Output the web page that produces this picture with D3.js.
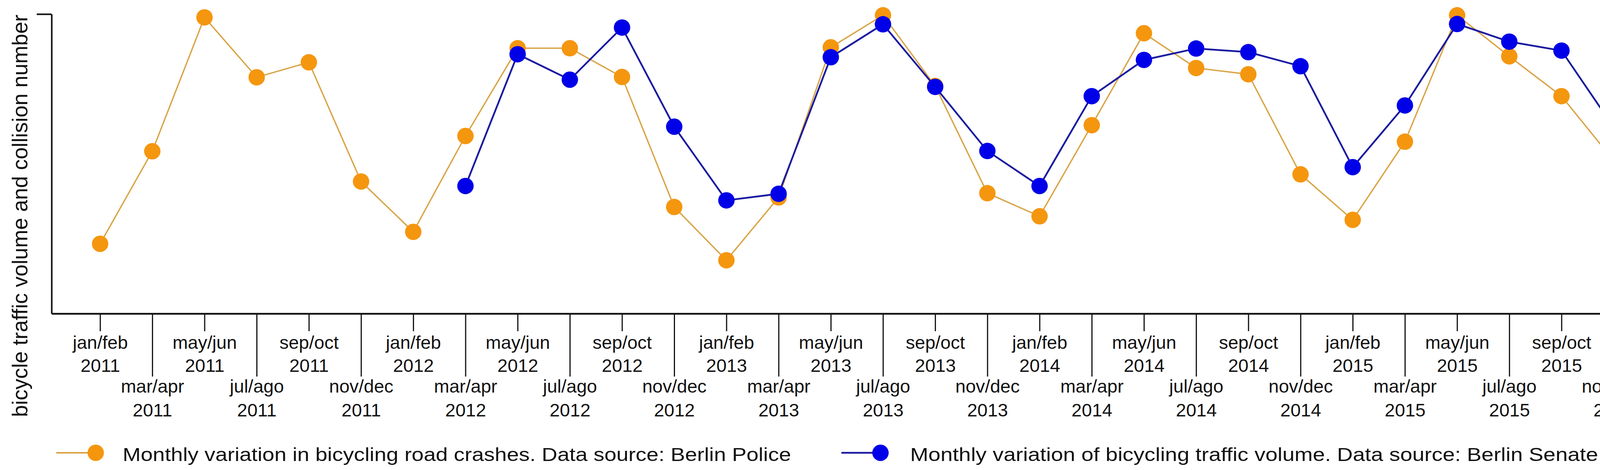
<!DOCTYPE html>
<html>
<head>
<meta charset="utf-8">
<script src="https://cdn.jsdelivr.net/npm/d3@7"></script>
<style>
  html, body { margin: 0; padding: 0; background: #fff; overflow: hidden; }
  svg { display: block; }
  text { font-family: "Liberation Sans", Arial, sans-serif; fill: #111; }
</style>
</head>
<body>
<div id="chart"></div>
<script>
// bimestres 2011-2015
const periods = ['jan/feb', 'mar/apr', 'may/jun', 'jul/ago', 'sep/oct', 'nov/dec'];
const years = [2011, 2012, 2013, 2014, 2015];

// índice relativo (0-100)
const crashes = [23.3, 54.2, 98.9, 78.9, 83.9, 44.1,
                 27.3, 59.3, 88.6, 88.6, 79.0, 35.6,
                 17.8, 38.8, 88.9, 99.6, 76.0, 40.2,
                 32.5, 62.9, 93.6, 82.0, 79.9, 46.5,
                 31.3, 57.4, 99.6, 85.9, 72.6, 51.1];

// tráfico: empieza en mar/apr 2012 (índice 8)
const trafficStart = 8;
const traffic = [42.6, 86.6, 78.1, 95.5, 62.4,
                 37.8, 40.0, 85.6, 96.6, 75.7, 54.3,
                 42.6, 72.6, 84.7, 88.5, 87.3, 82.6,
                 48.9, 69.5, 96.7, 90.8, 87.8, 62.2];

const legendLabels = [
  'Monthly variation in bicycling road crashes. Data source: Berlin Police',
  'Monthly variation of bicycling traffic volume. Data source: Berlin Senate'
];
const yTitle = 'bicycle traffic volume and collision number';

const width = 4229, height = 1202;
const orange = '#F5960F', orangeLine = '#D9A446';
const blue = '#0000E8', blueLine = '#1A1AA0';
const r = 21;

const labels = [];
years.forEach(y => periods.forEach(p => labels.push([p, y])));

const crashData = crashes.map((v, i) => ({ i: i + 1, v }));
const trafficData = traffic.map((v, i) => ({ i: i + trafficStart, v }));

const svg = d3.select('#chart').append('svg')
  .attr('width', width)
  .attr('height', height);

const x = d3.scaleLinear().domain([0.07, 30]).range([132, 4131]);
const y = d3.scaleLinear().domain([0, 100]).range([802, 36]);

// eje y
svg.append('g')
  .attr('transform', `translate(${x.range()[0]},0)`)
  .call(d3.axisLeft(y).tickValues([100]).tickFormat('').tickSize(38).tickSizeOuter(0))
  .call(g => g.select('.domain').attr('stroke', '#111').attr('stroke-width', 4))
  .call(g => g.selectAll('.tick line').attr('stroke', '#111').attr('stroke-width', 4));

// eje x
const xAxis = svg.append('g')
  .attr('transform', `translate(0,${y(0)})`)
  .call(d3.axisBottom(x).tickValues(d3.range(1, 31)).tickFormat('').tickSizeOuter(0));

xAxis.select('.domain').attr('stroke', '#111').attr('stroke-width', 4.5);
xAxis.selectAll('.tick line')
  .attr('stroke', '#111')
  .attr('stroke-width', 3)
  .attr('y2', d => d % 2 ? 45 : 161);

xAxis.selectAll('.tick text').remove();
const tl = xAxis.selectAll('.tick').append('text')
  .attr('text-anchor', 'middle')
  .style('font-size', '47px');
tl.append('tspan')
  .attr('x', 0)
  .attr('y', d => d % 2 ? 90 : 202)
  .text(d => labels[d - 1][0]);
tl.append('tspan')
  .attr('x', 0)
  .attr('y', d => d % 2 ? 149 : 263)
  .text(d => labels[d - 1][1]);

// título eje y
svg.append('text')
  .attr('transform', `translate(70,552) rotate(-90)`)
  .attr('text-anchor', 'middle')
  .style('font-size', '55px')
  .text(yTitle);

const line = d3.line().x(d => x(d.i)).y(d => y(d.v));

function drawSeries(data, lineColor, lineWidth, pointColor) {
  svg.append('path')
    .datum(data)
    .attr('d', line)
    .attr('fill', 'none')
    .attr('stroke', lineColor)
    .attr('stroke-width', lineWidth);
  svg.append('g').selectAll('circle')
    .data(data)
    .enter()
    .append('circle')
    .attr('cx', d => x(d.i))
    .attr('cy', d => y(d.v))
    .attr('r', r)
    .attr('fill', pointColor);
}

drawSeries(crashData, orangeLine, 3.5, orange);
drawSeries(trafficData, blueLine, 4.5, blue);

// leyenda
const legend = [
  { x0: 144, cx: 245, tx: 314, tw: 1711, line: orangeLine, lw: 4, fill: orange, text: legendLabels[0] },
  { x0: 2154, cx: 2254, tx: 2330, tw: 1761, line: blueLine, lw: 4.5, fill: blue, text: legendLabels[1] }
];
const ly = 1158;
const lg = svg.append('g').selectAll('g').data(legend).enter().append('g');
lg.append('line')
  .attr('x1', d => d.x0).attr('x2', d => d.cx)
  .attr('y1', ly).attr('y2', ly)
  .attr('stroke', d => d.line).attr('stroke-width', d => d.lw);
lg.append('circle')
  .attr('cx', d => d.cx).attr('cy', ly).attr('r', r)
  .attr('fill', d => d.fill);
lg.append('text')
  .attr('x', d => d.tx).attr('y', ly + 21)
  .attr('textLength', d => d.tw)
  .attr('lengthAdjust', 'spacingAndGlyphs')
  .style('font-size', '49px')
  .text(d => d.text);
</script>
</body>
</html>
